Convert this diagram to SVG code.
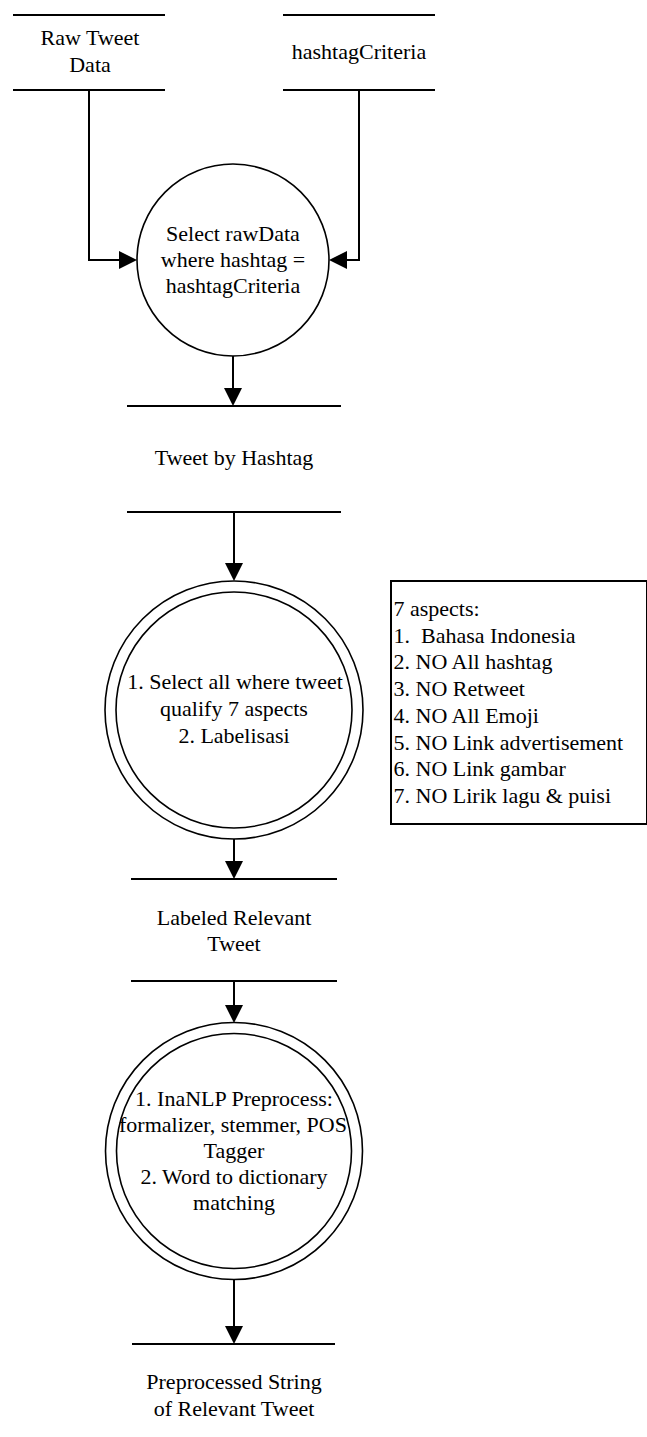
<svg xmlns="http://www.w3.org/2000/svg" width="647" height="1437" viewBox="0 0 647 1437">
<style>
text{font-family:"Liberation Serif",Tinos,"Times New Roman","Nimbus Roman","Nimbus Roman No9 L",FreeSerif,"DejaVu Serif","Noto Serif",serif;font-size:22px;fill:#000}
.c{text-anchor:middle}
.store{stroke:#000;stroke-width:2;fill:none}
.proc{stroke:#000;stroke-width:1.6;fill:#fff}
.flow{stroke:#000;stroke-width:2;fill:none;marker-end:url(#arr)}
.note{stroke:#000;stroke-width:2;fill:#fff}
</style>
<defs>
<marker id="arr" markerUnits="userSpaceOnUse" markerWidth="18" markerHeight="18" refX="8" refY="9" orient="auto">
<path d="M0,0 L18,9 L0,18 Z" fill="#000"/>
</marker>
</defs>
<rect width="647" height="1437" fill="#fff"/>
<g id="connectors">
<path class="flow" d="M89,90 V260 H127"/>
<path class="flow" d="M359,90 V260 H339"/>
<path class="flow" d="M233,356 V396"/>
<path class="flow" d="M234,512 V571"/>
<path class="flow" d="M234,839 V869"/>
<path class="flow" d="M234,981 V1013"/>
<path class="flow" d="M234,1279 V1334"/>
</g>
<g id="raw-tweet-data">
<line class="store" x1="13" y1="15" x2="165" y2="15"/>
<line class="store" x1="13" y1="90" x2="165" y2="90"/>
<text class="c" x="90" y="45">Raw Tweet</text>
<text class="c" x="90" y="72">Data</text>
</g>
<g id="hashtag-criteria">
<line class="store" x1="283" y1="15" x2="435" y2="15"/>
<line class="store" x1="283" y1="90" x2="435" y2="90"/>
<text class="c" x="359" y="59">hashtagCriteria</text>
</g>
<g id="select-process">
<circle class="proc" cx="233" cy="260" r="96"/>
<text class="c" x="233" y="241">Select rawData</text>
<text class="c" x="233" y="267">where hashtag =</text>
<text class="c" x="233" y="293">hashtagCriteria</text>
</g>
<g id="tweet-by-hashtag">
<line class="store" x1="127" y1="406" x2="341" y2="406"/>
<line class="store" x1="127" y1="512" x2="341" y2="512"/>
<text class="c" x="234" y="465">Tweet by Hashtag</text>
</g>
<g id="qualify-process">
<circle class="proc" cx="234" cy="710" r="129"/>
<circle class="proc" cx="234" cy="710" r="118"/>
<text class="c" x="235" y="689">1. Select all where tweet</text>
<text class="c" x="234" y="716">qualify 7 aspects</text>
<text class="c" x="234" y="743">2. Labelisasi</text>
</g>
<g id="aspects-note">
<rect class="note" x="391" y="581" width="256" height="243"/>
<text x="393.5" y="616">7 aspects:</text>
<text x="393.5" y="642.7" xml:space="preserve" style="white-space:pre">1.  Bahasa Indonesia</text>
<text x="393.5" y="669.4">2. NO All hashtag</text>
<text x="393.5" y="696.1">3. NO Retweet</text>
<text x="393.5" y="722.8">4. NO All Emoji</text>
<text x="393.5" y="749.5">5. NO Link advertisement</text>
<text x="393.5" y="776.2">6. NO Link gambar</text>
<text x="393.5" y="802.9">7. NO Lirik lagu &amp; puisi</text>
</g>
<g id="labeled-relevant-tweet">
<line class="store" x1="131" y1="879" x2="337" y2="879"/>
<line class="store" x1="131" y1="981" x2="337" y2="981"/>
<text class="c" x="234" y="925">Labeled Relevant</text>
<text class="c" x="234" y="951">Tweet</text>
</g>
<g id="preprocess-process">
<circle class="proc" cx="234" cy="1151" r="128.5"/>
<circle class="proc" cx="234" cy="1151" r="117.5"/>
<text class="c" x="234" y="1106">1. InaNLP Preprocess:</text>
<text class="c" x="233" y="1132">formalizer, stemmer, POS</text>
<text class="c" x="234" y="1158">Tagger</text>
<text class="c" x="234" y="1184">2. Word to dictionary</text>
<text class="c" x="234" y="1210">matching</text>
</g>
<g id="preprocessed-string">
<line class="store" x1="132" y1="1344" x2="335" y2="1344"/>
<text class="c" x="234" y="1389">Preprocessed String</text>
<text class="c" x="234" y="1416">of Relevant Tweet</text>
</g>
</svg>
